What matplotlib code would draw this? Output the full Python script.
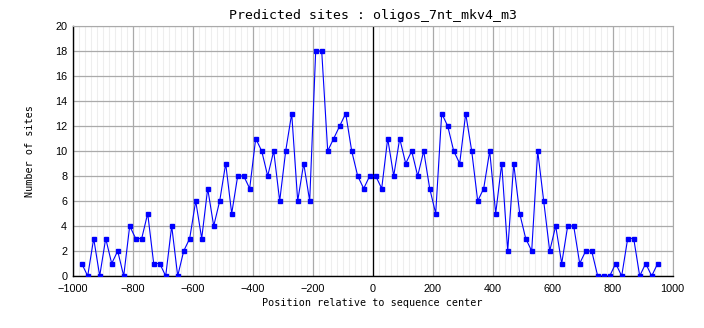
import numpy as np
import matplotlib
matplotlib.use("Agg")
import matplotlib.pyplot as plt
from matplotlib.ticker import MultipleLocator

# site counts per 20 bp window, from -970 to +950
positions = np.arange(-970, 951, 20)
sites = [1, 0, 3, 0, 3, 1, 2, 0, 4, 3,
         3, 5, 1, 1, 0, 4, 0, 2, 3, 6,
         3, 7, 4, 6, 9, 5, 8, 8, 7, 11,
         10, 8, 10, 6, 10, 13, 6, 9, 6, 18,
         18, 10, 11, 12, 13, 10, 8, 7, 8, 8,
         7, 11, 8, 11, 9, 10, 8, 10, 7, 5,
         13, 12, 10, 9, 13, 10, 6, 7, 10, 5,
         9, 2, 9, 5, 3, 2, 10, 6, 2, 4,
         1, 4, 4, 1, 2, 2, 0, 0, 0, 1,
         0, 3, 3, 0, 1, 0, 1]

title = "Predicted sites : oligos_7nt_mkv4_m3"
xlabel = "Position relative to sequence center"
ylabel = "Number of sites"

fig = plt.figure(figsize=(7.04, 3.28), dpi=100)
ax = fig.add_axes([72.7 / 704, 1 - 276 / 328, 600 / 704, 250 / 328])

ax.set_xlim(-1000, 1000)
ax.set_ylim(0, 20)
ax.xaxis.set_major_locator(MultipleLocator(200))
ax.xaxis.set_minor_locator(MultipleLocator(20))
ax.yaxis.set_major_locator(MultipleLocator(2))

# grid: faint verticals every 20, grey lines at the major ticks
ax.grid(which="minor", axis="x", color="#eeeeee", linewidth=0.8)
ax.grid(which="major", axis="both", color="#aaaaaa", linewidth=0.9)
ax.set_axisbelow(True)

ax.axvline(0, color="black", linewidth=0.9, zorder=2)
ax.plot(positions, sites, color="#0000ff", linewidth=0.8,
        marker="s", markersize=2.6, zorder=3)

for side in ("top", "right"):
    ax.spines[side].set_color("#aaaaaa")
for side in ("left", "bottom"):
    ax.spines[side].set_color("black")
    ax.spines[side].set_linewidth(1.0)

ax.tick_params(which="both", length=0)
ax.tick_params(axis="x", pad=6)
ax.tick_params(axis="y", pad=4)
for lab in ax.get_xticklabels() + ax.get_yticklabels():
    lab.set_fontfamily("Liberation Sans")
    lab.set_fontsize(7.8)

ax.set_title(title, family="DejaVu Sans Mono", fontsize=9.5, pad=5)
ax.set_xlabel(xlabel, family="DejaVu Sans Mono", fontsize=7.3, labelpad=3)
ax.set_ylabel(ylabel, family="DejaVu Sans Mono", fontsize=7.3, labelpad=14)

fig.savefig("out.png", dpi=100)
